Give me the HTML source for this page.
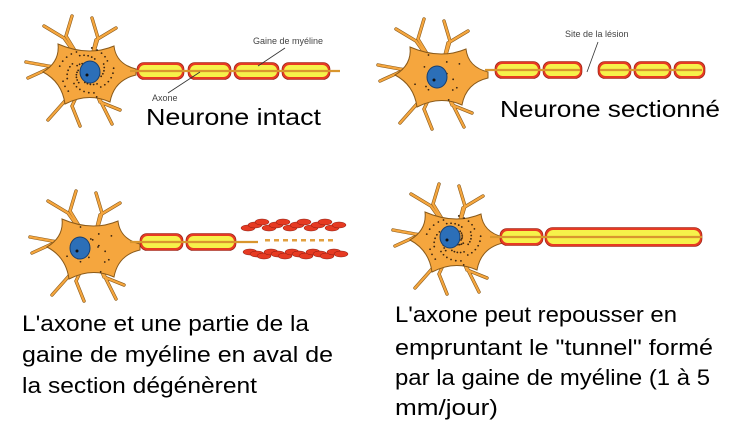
<!DOCTYPE html>
<html><head><meta charset="utf-8"><style>
html,body{margin:0;padding:0;background:#fff;}
svg{display:block;}
text{font-family:"Liberation Sans",sans-serif;}
</style></head><body>
<svg id="s" width="732" height="435" viewBox="0 0 732 435" xmlns="http://www.w3.org/2000/svg">
<g id="art"></g>
<g>
<text x="253" y="44" font-size="9" fill="#444">Gaine de myéline</text>
<line x1="285" y1="48" x2="258" y2="66" stroke="#333" stroke-width="0.8"/>
<text x="152" y="101" font-size="9" fill="#444">Axone</text>
<line x1="168" y1="93" x2="200" y2="72" stroke="#333" stroke-width="0.8"/>
<text x="565" y="37" font-size="9" fill="#444">Site de la lésion</text>
<line x1="598" y1="42" x2="587" y2="72" stroke="#333" stroke-width="0.8"/>
<text x="146" y="125" font-size="23" fill="#000" textLength="175" lengthAdjust="spacingAndGlyphs">Neurone intact</text>
<text x="500" y="117" font-size="23" fill="#000" textLength="220" lengthAdjust="spacingAndGlyphs">Neurone sectionné</text>
<g font-size="22" fill="#000">
<text x="22" y="331" textLength="287" lengthAdjust="spacingAndGlyphs">L'axone et une partie de la</text>
<text x="22" y="362" textLength="311" lengthAdjust="spacingAndGlyphs">gaine de myéline en aval de</text>
<text x="22" y="393" textLength="235" lengthAdjust="spacingAndGlyphs">la section dégénèrent</text>
</g>
<g font-size="22" fill="#000">
<text x="395" y="322" textLength="282" lengthAdjust="spacingAndGlyphs">L'axone peut repousser en</text>
<text x="395" y="355" textLength="318" lengthAdjust="spacingAndGlyphs">empruntant le "tunnel" formé</text>
<text x="395" y="385" textLength="315" lengthAdjust="spacingAndGlyphs">par la gaine de myéline (1 à 5</text>
<text x="395" y="415" textLength="103" lengthAdjust="spacingAndGlyphs">mm/jour)</text>
</g>
</g>
</svg>
<script>
const NS="http://www.w3.org/2000/svg";
const art=document.getElementById('art');
function el(tag,attrs,parent){const e=document.createElementNS(NS,tag);for(const k in attrs)e.setAttribute(k,attrs[k]);(parent||art).appendChild(e);return e;}
const OR="#f5a63e",ST="#8a5a1a";
function neuron(cx,cy,nx,ny,dense,name){
  const g=el('g',{});
  
  
  const dd=[[-24,-34,-44,-46],[-22,-36,-16,-56],[8,-32,28,-44],[10,-34,4,-54],[-40,-6,-62,-10],[-38,-4,-60,6],[-24,30,-40,48],[-16,34,-8,54],[12,30,32,38],[14,32,24,52]];
  dd.forEach(d=>{el('path',{d:`M${cx} ${cy} L${cx+d[0]} ${cy+d[1]} L${cx+d[2]} ${cy+d[3]}`,stroke:ST,'stroke-width':3.4,fill:'none','stroke-linecap':'round'},g);});
  dd.forEach(d=>{el('path',{d:`M${cx} ${cy} L${cx+d[0]} ${cy+d[1]} L${cx+d[2]} ${cy+d[3]}`,stroke:OR,'stroke-width':2.2,fill:'none','stroke-linecap':'round'},g);});
  el('path',{d:`M${cx-30} ${cy-28} Q${cx} ${cy-15} ${cx+26} ${cy-26} Q${cx+28} ${cy-8} ${cx+48} ${cy-3} L${cx+48} ${cy+3} Q${cx+26} ${cy+8} ${cx+22} ${cy+30} Q${cx} ${cy+20} ${cx-23} ${cy+32} Q${cx-26} ${cy+10} ${cx-45} ${cy} Q${cx-28} ${cy-10} ${cx-30} ${cy-28}Z`,fill:OR,stroke:ST,'stroke-width':1},g);
  const n=dense?70:18;
  for(let i=0;i<n;i++){const a=i*2.4,r=6+((i*37)%24);el('circle',{cx:cx+Math.cos(a)*r,cy:cy+Math.sin(a)*r*0.9,r:0.9,fill:'#3a2410'},g);}
  el('ellipse',{cx:nx,cy:ny,rx:10,ry:11,fill:'#2c6fb8',stroke:'#173f70','stroke-width':1},g);
  el('circle',{cx:nx-3,cy:ny+3,r:1.5,fill:'#111'},g);
}
function seg(x1,x2,y,h,name){
  const g=el('g',{});
  
  
  el('rect',{x:x1,y:y-h/2,width:x2-x1,height:h,rx:h/2.5,fill:'#e63a22',stroke:'#8a1a10','stroke-width':0.6},g);
  el('rect',{x:x1+2,y:y-h/2+2.5,width:x2-x1-4,height:h-5,rx:h/3,fill:'#f6f24a'},g);
}
function axon(x1,x2,y){const a=el('line',{x1,y1:y,x2,y2:y,stroke:'#d9962e','stroke-width':2.2});}
neuron(88,72,90,72,true,'neuron-intact');
[[137,184],[188,231],[234,279],[282,330]].forEach(s=>seg(s[0],s[1],71,17,'myelin-segment'));
axon(130,340,71);
neuron(440,75,437,77,false,'neuron-sectionne');
[[495,540],[543,582],[598,631],[634,671],[674,705]].forEach(s=>seg(s[0],s[1],70,17,'myelin-segment'));
axon(485,580,70);axon(600,702,70);
neuron(92,247,80,248,false,'neuron-degenerating');
[[140,183],[186,236]].forEach(s=>seg(s[0],s[1],242,17,'myelin-segment'));
axon(130,258,242);
const deb=el('g',{});
for(let i=0;i<14;i++){el('ellipse',{cx:248+i*7,cy:228-(i%3)*3,rx:7,ry:3,fill:'#e63a22',stroke:'#8a1a10','stroke-width':0.5},deb);el('ellipse',{cx:250+i*7,cy:252+(i%3)*2,rx:7,ry:3,fill:'#e63a22',stroke:'#8a1a10','stroke-width':0.5},deb);}
for(let i=0;i<8;i++)el('rect',{x:265+i*9,y:239,width:5,height:2.5,fill:'#e2a040'},deb);
neuron(455,240,450,237,true,'neuron-regenerating');
seg(500,543,237,17,'myelin-segment');
seg(545,702,237,19,'myelin-tunnel');
axon(490,702,237);
</script>
</body></html>
